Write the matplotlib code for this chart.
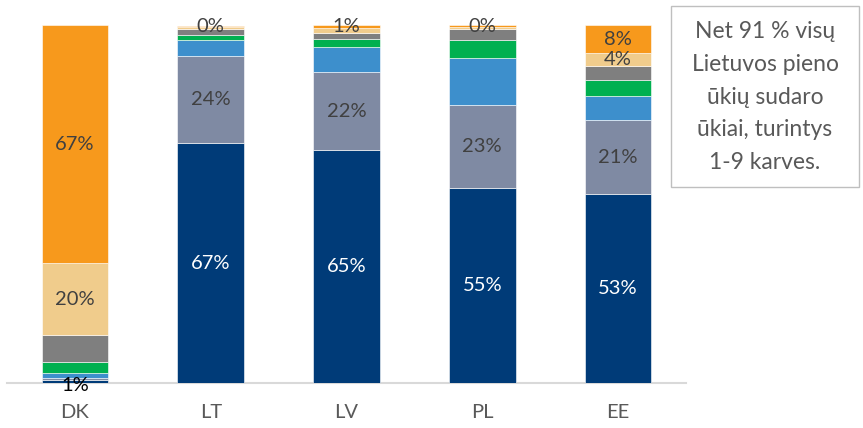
import matplotlib
matplotlib.use("Agg")
import matplotlib.pyplot as plt
from matplotlib.patches import Rectangle

plt.rcParams['font.family'] = ['Lato', 'DejaVu Sans']

categories = ["DK", "LT", "LV", "PL", "EE"]
s_dark = [0.8, 67, 65, 54.6, 52.7]
s_slate = [0.7, 24.4, 21.8, 23, 20.7]
s_blue = [1.4, 4.3, 7, 13.2, 6.7]
s_green = [3, 1.4, 2.2, 5, 4.5]
s_gray = [7.5, 1.7, 1.7, 3, 3.9]
s_tan = [20, 0.6, 1.4, 0.7, 3.6]
s_orange = [66.6, 0.4, 0.9, 0.4, 7.8]

series = [s_dark, s_slate, s_blue, s_green, s_gray, s_tan, s_orange]
colors = ["#003B78", "#7F8AA3", "#3D8FCC", "#00B050", "#7F7F7F", "#F0CC8C", "#F7991C"]
# which labels are shown: (series index, category index)
label_show = {
    0: [0, 1, 2, 3, 4],
    1: [1, 2, 3, 4],
    5: [0, 4],
    6: [0, 1, 2, 3, 4],
}
note = "Net 91 % visų\nLietuvos pieno\nūkių sudaro\nūkiai, turintys\n1-9 karves."

fig = plt.figure(figsize=(8.63, 4.28), dpi=100)
ax = fig.add_axes([7/863, 45/428, 679/863, 358/428])
x = list(range(len(categories)))
bottoms = [0]*len(categories)
for si, (vals, c) in enumerate(zip(series, colors)):
    ax.bar(x, vals, width=0.49, bottom=bottoms, color=c, edgecolor='white', linewidth=0.4, zorder=2)
    if si in label_show:
        for ci in label_show[si]:
            v = vals[ci]
            yc = bottoms[ci] + v/2
            if si == 0:
                col = 'white' if v > 5 else 'black'
                if v <= 5:
                    yc = -0.6
            else:
                col = '#404040'
            ax.text(ci, yc, f"{round(v):d}%", ha='center', va='center', fontsize=14.5,
                    color=col, zorder=3, clip_on=False)
    bottoms = [b + v for b, v in zip(bottoms, vals)]

ax.set_xlim(-0.5, 4.5)
ax.set_ylim(0, 100)
ax.set_yticks([])
ax.set_xticks(x)
ax.set_xticklabels(categories, fontsize=14.5, color='#595959')
ax.tick_params(axis='x', length=0, pad=15)
for sp in ['top', 'right', 'left']:
    ax.spines[sp].set_visible(False)
ax.spines['bottom'].set_color('#D9D9D9')
ax.spines['bottom'].set_linewidth(1.5)
ax.spines['bottom'].set_zorder(1)
ax.patch.set_alpha(0)

# note box
fig.patches.append(Rectangle((671/863, 1 - 187/428), (859-671)/863, (187-6)/428,
                             transform=fig.transFigure, fill=False, edgecolor='#BFBFBF', linewidth=1))
fig.text(765/863, 1 - 97/428, note, ha='center', va='center', fontsize=16.5,
         color='#595959', linespacing=1.7)

fig.savefig("out.png", dpi=100, facecolor='white')
